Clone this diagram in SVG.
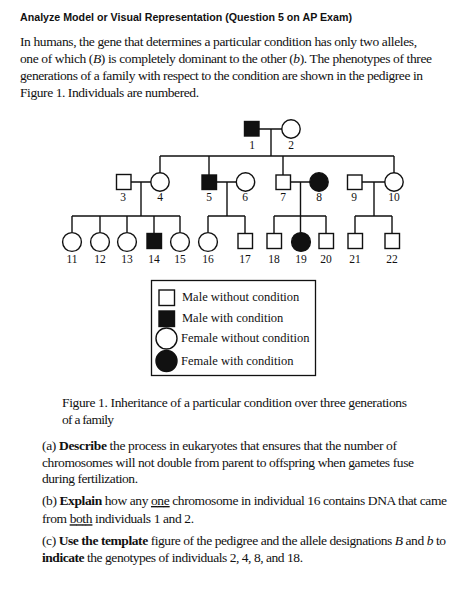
<svg xmlns="http://www.w3.org/2000/svg" width="474" height="592" viewBox="0 0 474 592">
<style>
.t{font-family:"Liberation Serif","Times New Roman",serif;font-size:13.5px;fill:#111}
.h{font-family:"Liberation Sans",Arial,sans-serif;font-size:10px;font-weight:bold;fill:#111}
.n{font-family:"Liberation Serif","Times New Roman",serif;font-size:11.5px;fill:#111;text-anchor:middle}
.lg{font-family:"Liberation Serif","Times New Roman",serif;font-size:12.5px;fill:#111}
.o{fill:#fff;stroke:#111;stroke-width:1.4}
.f{fill:#111;stroke:#111;stroke-width:1.4}
.ln{fill:none;stroke:#111;stroke-width:1.4}
.b{font-weight:bold}
.u{text-decoration:underline}
</style>
<rect width="474" height="592" fill="#fff"/>
<g id="header">
<text class="h" x="20" y="21" textLength="332" lengthAdjust="spacingAndGlyphs">Analyze Model or Visual Representation (Question 5 on AP Exam)</text>
<text class="t" x="20" y="46" textLength="397" lengthAdjust="spacing">In humans, the gene that determines a particular condition has only two alleles,</text>
<text class="t" x="20" y="63" textLength="412" lengthAdjust="spacing">one of which (<tspan font-style="italic">B</tspan>) is completely dominant to the other (<tspan font-style="italic">b</tspan>). The phenotypes of three</text>
<text class="t" x="20" y="80" textLength="403" lengthAdjust="spacing">generations of a family with respect to the condition are shown in the pedigree in</text>
<text class="t" x="20" y="97" textLength="179" lengthAdjust="spacing">Figure 1. Individuals are numbered.</text>
</g>
<g id="connectors" class="ln">
<path d="M259 129H282M271 129V156M160 156H394M160 156V173M209 156V175M283 156V175M394 156V173"/>
<path d="M131 182H151M141 182V216M217 182H236M227 182V216M290 182H310M300.5 182V216M362 182H385M374 182V216"/>
<path d="M72 216H180M72 216V232.5M100 216V232.5M127 216V232.5M154 216V233.5M180 216V232.5"/>
<path d="M208 216H245M208 216V232.5M245 216V233.5"/>
<path d="M274 216H326M274 216V233.5M300.5 216V232.5M326 216V233.5"/>
<path d="M355 216H392M355 216V233.5M392 216V233.5"/>
</g>
<g id="n1"><rect class="f" x="244.5" y="121.5" width="14.5" height="14.5"/><text class="n" x="252" y="149">1</text></g>
<g id="n2"><circle class="o" cx="291" cy="129" r="9.2"/><text class="n" x="291" y="149">2</text></g>
<g id="n3"><rect class="o" x="116.5" y="174.5" width="14.5" height="15"/><text class="n" x="123" y="201">3</text></g>
<g id="n4"><circle class="o" cx="160" cy="182" r="9.2"/><text class="n" x="160" y="201">4</text></g>
<g id="n5"><rect class="f" x="202" y="175" width="14.5" height="14.5"/><text class="n" x="209" y="201">5</text></g>
<g id="n6"><circle class="o" cx="245.5" cy="182" r="9.2"/><text class="n" x="245" y="201">6</text></g>
<g id="n7"><rect class="o" x="276" y="175" width="14.5" height="14.5"/><text class="n" x="283" y="201">7</text></g>
<g id="n8"><circle class="f" cx="319" cy="182" r="9.2"/><text class="n" x="319" y="201">8</text></g>
<g id="n9"><rect class="o" x="347.5" y="175" width="14.5" height="14.5"/><text class="n" x="354" y="201">9</text></g>
<g id="n10"><circle class="o" cx="394" cy="182" r="9.2"/><text class="n" x="394" y="201">10</text></g>
<g id="n11"><circle class="o" cx="72" cy="242" r="9.4"/><text class="n" x="72" y="263">11</text></g>
<g id="n12"><circle class="o" cx="100" cy="242" r="9.4"/><text class="n" x="100" y="263">12</text></g>
<g id="n13"><circle class="o" cx="127" cy="242" r="9.4"/><text class="n" x="127" y="263">13</text></g>
<g id="n14"><rect class="f" x="147" y="233.5" width="14.5" height="15"/><text class="n" x="154" y="263">14</text></g>
<g id="n15"><circle class="o" cx="180" cy="242" r="9.4"/><text class="n" x="180" y="263">15</text></g>
<g id="n16"><circle class="o" cx="208" cy="242" r="9.4"/><text class="n" x="208" y="263">16</text></g>
<g id="n17"><rect class="o" x="238" y="233.5" width="14.5" height="15"/><text class="n" x="245" y="263">17</text></g>
<g id="n18"><rect class="o" x="267" y="233.5" width="14.5" height="15"/><text class="n" x="274" y="263">18</text></g>
<g id="n19"><circle class="f" cx="301" cy="242" r="9.4"/><text class="n" x="301" y="263">19</text></g>
<g id="n20"><rect class="o" x="319" y="233.5" width="14.5" height="15"/><text class="n" x="326" y="263">20</text></g>
<g id="n21"><rect class="o" x="348" y="233.5" width="14.5" height="15"/><text class="n" x="355" y="263">21</text></g>
<g id="n22"><rect class="o" x="385" y="233.5" width="14.5" height="15"/><text class="n" x="392" y="263">22</text></g>
<g id="legend">
<rect x="151.5" y="280.5" width="164" height="95" fill="none" stroke="#111" stroke-width="1.3"/>
<rect class="o" x="159" y="290" width="15.5" height="15.5"/>
<text class="lg" x="182" y="301">Male without condition</text>
<rect class="f" x="159" y="311" width="15.5" height="15.5"/>
<text class="lg" x="182" y="322">Male with condition</text>
<circle class="o" cx="166.5" cy="338.5" r="10.5"/>
<text class="lg" x="181" y="342">Female without condition</text>
<circle class="f" cx="166.5" cy="361" r="10.5"/>
<text class="lg" x="181" y="364.5">Female with condition</text>
</g>
<g id="caption">
<text class="t" x="62" y="407" textLength="345" lengthAdjust="spacing">Figure 1. Inheritance of a particular condition over three generations</text>
<text class="t" x="62" y="423.5" textLength="52" lengthAdjust="spacing">of a family</text>
</g>
<g id="questions">
<text class="t" x="42" y="450" textLength="355" lengthAdjust="spacing">(a) <tspan class="b">Describe</tspan> the process in eukaryotes that ensures that the number of</text>
<text class="t" x="42" y="466.7" textLength="372" lengthAdjust="spacing">chromosomes will not double from parent to offspring when gametes fuse</text>
<text class="t" x="42" y="483.3" textLength="96" lengthAdjust="spacing">during fertilization.</text>
<text class="t" x="42" y="505" textLength="405" lengthAdjust="spacing">(b) <tspan class="b">Explain</tspan> how any <tspan class="u">one</tspan> chromosome in individual 16 contains DNA that came</text>
<text class="t" x="42" y="523.3" textLength="152" lengthAdjust="spacing">from <tspan class="u">both</tspan> individuals 1 and 2.</text>
<text class="t" x="42" y="545" textLength="404" lengthAdjust="spacing">(c) <tspan class="b">Use the template</tspan> figure of the pedigree and the allele designations <tspan font-style="italic">B</tspan> and <tspan font-style="italic">b</tspan> to</text>
<text class="t" x="42" y="561.7" textLength="261" lengthAdjust="spacing"><tspan class="b">indicate</tspan> the genotypes of individuals 2, 4, 8, and 18.</text>
</g>
</svg>
